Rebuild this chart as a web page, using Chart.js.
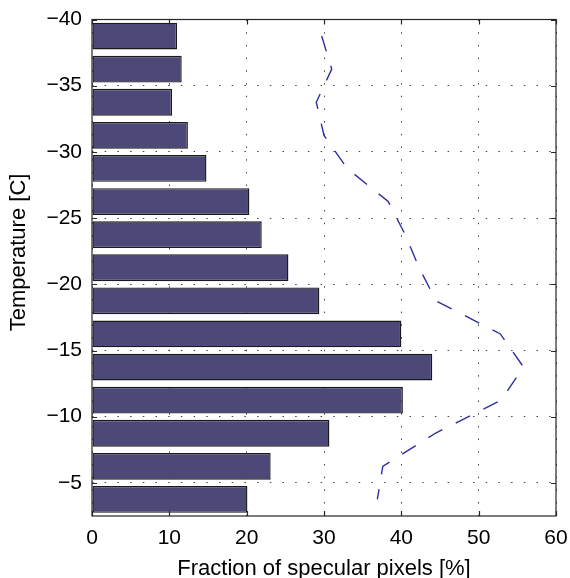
<!DOCTYPE html>
<html>
<head>
<meta charset="utf-8">
<script src="https://cdn.jsdelivr.net/npm/chart.js@4.4.1/dist/chart.umd.min.js"></script>
<style>
  html, body { margin: 0; padding: 0; background: #fff; }
  #wrap { width: 570px; height: 578px; position: relative; }
</style>
</head>
<body>
<div id="wrap"><canvas id="histChart"></canvas></div>
<script>
// bin centres (deg C), each bin 2.5 wide
const temps = [-38.75, -36.25, -33.75, -31.25, -28.75, -26.25, -23.75, -21.25,
               -18.75, -16.25, -13.75, -11.25, -8.75, -6.25, -3.75];
// bar lengths, % of specular pixels
const barValues = [11.0, 11.6, 10.35, 12.4, 14.8, 20.35, 21.95, 25.4,
                   29.4, 40.0, 44.0, 40.2, 30.7, 23.1, 20.1];
// dashed curve
const lineValues = [29.7, 31.0, 29.0, 30.0, 33.0, 38.3, 40.5, 42.3,
                    44.5, 52.8, 55.8, 52.9, 44.4, 37.6, 36.9];
// tick labels
const xTicks = [0, 10, 20, 30, 40, 50, 60];
const yTicks = [-40, -35, -30, -25, -20, -15, -10, -5];

const fontFamily = "'Liberation Sans', Arial, Helvetica, sans-serif";
const minus = (v) => String(v).replace("-", "\u2212");

// box round the plot and inward tick marks (matlab style)
const frameTicks = {
  id: "frameTicks",
  afterDatasetsDraw(chart) {
    const { ctx, chartArea: a, scales } = chart;
    const len = 5;
    ctx.save();
    ctx.strokeStyle = "#262626";
    ctx.lineWidth = 1.2;
    ctx.beginPath();
    xTicks.forEach((v) => {
      const px = Math.round(scales.x.getPixelForValue(v)) + 0.5;
      ctx.moveTo(px, a.bottom); ctx.lineTo(px, a.bottom - len);
      ctx.moveTo(px, a.top); ctx.lineTo(px, a.top + len);
    });
    yTicks.forEach((v) => {
      const py = Math.round(scales.y.getPixelForValue(v)) + 0.5;
      ctx.moveTo(a.left, py); ctx.lineTo(a.left + len, py);
      ctx.moveTo(a.right, py); ctx.lineTo(a.right - len, py);
    });
    ctx.stroke();
    ctx.strokeRect(a.left, a.top, a.right - a.left, a.bottom - a.top);
    ctx.restore();
  },
};

const ctx = document.getElementById("histChart").getContext("2d");
new Chart(ctx, {
  type: "bar",
  data: {
    datasets: [
      {
        type: "line",
        data: temps.map((t, i) => ({ x: lineValues[i], y: t })),
        borderColor: "#2e2e9e",
        borderWidth: 1.4,
        borderDash: [16, 15],
        pointRadius: 0,
        fill: false,
        tension: 0,
        order: 0,
      },
      {
        type: "bar",
        data: temps.map((t, i) => ({ x: barValues[i], y: t })),
        backgroundColor: "#4c4878",
        borderColor: "#1a1a1a",
        borderWidth: 1.4,
        borderSkipped: false,
        categoryPercentage: 1,
        barPercentage: 0.81,
        order: 1,
      },
    ],
  },
  options: {
    indexAxis: "y",
    responsive: true,
    maintainAspectRatio: false,
    animation: false,
    layout: { padding: { left: 0, right: 14, top: 19.5, bottom: 0 } },
    plugins: { legend: { display: false }, tooltip: { enabled: false } },
    scales: {
      x: {
        type: "linear",
        min: 0,
        max: 60,
        offset: false,
        afterBuildTicks: (s) => { s.ticks = xTicks.map((v) => ({ value: v })); },
        afterFit: (s) => { s.height = 62; s.paddingLeft = 0; s.paddingRight = 0; },
        grid: { color: "#444", lineWidth: 1, drawTicks: false, offset: false },
        border: { display: false, dash: [1.5, 11.2] },
        ticks: {
          padding: 10,
          color: "#000",
          font: { family: fontFamily, size: 21 },
        },
        title: {
          display: true,
          text: "Fraction of specular pixels [%]",
          color: "#000",
          font: { family: fontFamily, size: 22, lineHeight: 0.8 },
          padding: { top: 0, bottom: 0 },
        },
      },
      y: {
        type: "linear",
        min: -40,
        max: -2.5,
        reverse: true,
        offset: false,
        afterBuildTicks: (s) => { s.ticks = yTicks.map((v) => ({ value: v })); },
        afterFit: (s) => { s.width = 92; s.paddingTop = 0; s.paddingBottom = 0; },
        grid: { color: "#444", lineWidth: 1, drawTicks: false, offset: false },
        border: { display: false, dash: [1.5, 11.2] },
        ticks: {
          padding: 10,
          color: "#000",
          font: { family: fontFamily, size: 21 },
          callback: (v) => minus(v),
        },
        title: {
          display: true,
          // leading spaces nudge the label up a little, like the original
          text: "     Temperature [C]",
          color: "#000",
          font: { family: fontFamily, size: 22 },
          padding: { top: 6, bottom: 0 },
        },
      },
    },
  },
  plugins: [frameTicks],
});
</script>
</body>
</html>
